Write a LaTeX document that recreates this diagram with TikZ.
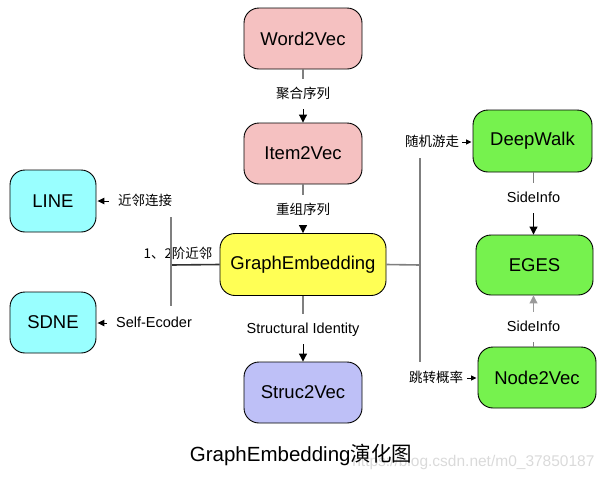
\documentclass[tikz,border=0pt]{standalone}
\usepackage{fontspec}
\setmainfont{Liberation Sans}
\newfontfamily\cjk{Noto Sans CJK SC}
\usetikzlibrary{arrows.meta}
\definecolor{cpink}{HTML}{F5C1C1}
\definecolor{cyellow}{HTML}{FFFF55}
\definecolor{ccyan}{HTML}{99FFFF}
\definecolor{cgreen}{HTML}{76F24E}
\definecolor{clav}{HTML}{BEC0F7}
\definecolor{cgray}{HTML}{7F7F7F}
\definecolor{cdark}{HTML}{333333}
\definecolor{clight}{HTML}{9A9A9A}
\definecolor{cwater}{HTML}{DADADA}
\tikzset{
  box/.style={draw=black, line width=0.9pt, rounded corners=15pt, inner sep=0pt,
    font=\fontsize{18.5}{20}\selectfont},
  lbl/.style={inner xsep=2pt, inner ysep=8.5pt, text height=10.5pt, text depth=2.5pt,
    font=\fontsize{13.5}{15}\selectfont},
  sidelbl/.style={inner xsep=2pt, inner ysep=0pt, text height=10.5pt, text depth=2.5pt,
    font=\fontsize{13.5}{15}\selectfont},
  latin/.style={font=\fontsize{14.5}{16}\selectfont},
  gline/.style={draw=cgray, line width=1.6pt},
  dline/.style={draw=cdark, line width=1.6pt},
  downarrow/.style={draw=black, line width=1pt, -{Triangle[length=8pt,width=8pt]}},
  grayarrow/.style={draw=clight, line width=1pt, -{Triangle[length=8pt,width=8pt]}},
  sidearrow/.style={draw=black, line width=1pt, -{Triangle[length=7pt,width=6.5pt]}},
  tinyarrow/.style={draw=black, line width=1pt, -{Triangle[length=5.5pt,width=5pt]}},
}
\begin{document}
\begin{tikzpicture}[x=1pt,y=-1pt]
\useasboundingbox (0,0) rectangle (607,480);
% main nodes
\node[box, fill=cpink, minimum width=118pt, minimum height=61pt] (w2v) at (303,38.5) {Word2Vec};
\node[box, fill=cpink, minimum width=118pt, minimum height=61pt] (i2v) at (303,153.5) {Item2Vec};
\node[box, fill=cyellow, minimum width=166pt, minimum height=62pt] (ge) at (303,264.5) {GraphEmbedding};
\node[box, fill=clav, minimum width=118pt, minimum height=61pt] (s2v) at (303,392.5) {Struc2Vec};
\node[box, fill=ccyan, minimum width=86pt, minimum height=62pt] (line) at (53,201) {LINE};
\node[box, fill=ccyan, minimum width=86pt, minimum height=61pt] (sdne) at (53,322.5) {SDNE};
\node[box, fill=cgreen, minimum width=119pt, minimum height=62pt] (dw) at (532.5,141) {DeepWalk};
\node[box, fill=cgreen, minimum width=117pt, minimum height=60pt] (eges) at (534.5,265) {EGES};
\node[box, fill=cgreen, minimum width=118pt, minimum height=61pt] (n2v) at (537,377.5) {Node2Vec};
% labels on vertical connectors
\node[lbl] (l1) at (303,94) {\cjk 聚合序列};
\node[lbl] (l2) at (303,210) {\cjk 重组序列};
\node[lbl, latin] (l3) at (303,329) {Structural Identity};
\node[lbl, latin] (l9) at (533.5,198) {SideInfo};
\node[lbl, latin] (l10) at (533.5,327) {SideInfo};
% side labels
\node[sidelbl] (l4) at (145,201) {\cjk 近邻连接};
\node[sidelbl] (l5) at (178,254.5) {\cjk 1、2阶近邻};
\node[sidelbl, latin] (l6) at (154,323) {Self-Ecoder};
\node[sidelbl] (l7) at (432,142) {\cjk 随机游走};
\node[sidelbl] (l8) at (436,378) {\cjk 跳转概率};
% vertical chain
\draw[gline, line width=1.3pt] (w2v.south) -- (l1.north);
\draw[downarrow] (l1.south) -- (i2v.north);
\draw[gline, line width=1.3pt] (i2v.south) -- (l2.north);
\draw[downarrow] (l2.south) -- (ge.north);
\draw[gline, line width=1.3pt] (ge.south) -- (l3.north);
\draw[downarrow] (l3.south) -- (s2v.north);
\draw[gline, line width=1.3pt] (dw.south -| l9.north) -- (l9.north);
\draw[downarrow] (l9.south) -- (l9.south |- eges.north);
\draw[gline, line width=1.3pt] (n2v.north -| l10.south) -- (l10.south);
\draw[grayarrow] (l10.north) -- (l10.north |- eges.south);
% left branch
\coordinate (lb) at (171,265);
\coordinate (lt) at (171,217);
\coordinate (lbo) at (171,306);
\draw[dline] (ge.west) -- (lb);
\draw[gline] (lt) -- (lbo);
\draw[sidearrow, shorten <=7pt, shorten >=1pt] (l4.west) -- (line.east |- l4.west);
\draw[sidearrow, shorten <=7pt, shorten >=1pt] (l6.west) -- (sdne.east |- l6.west);
% right branch
\coordinate (rb) at (420,265);
\coordinate (rt) at (420,158);
\coordinate (rbo) at (420,362);
\draw[gline] (ge.east) -- (rb);
\draw[gline] (rt) -- (rbo);
\draw[tinyarrow, shorten <=1pt, shorten >=1pt] (l7.east) -- (dw.west |- l7.east);
\draw[tinyarrow, shorten <=2pt, shorten >=1pt] (l8.east) -- (n2v.west |- l8.east);
% title and watermark
\node[font=\fontsize{15.5}{17}\selectfont, text=cwater, anchor=east] (wm) at (598,462) {https://blog.csdn.net/m0\_37850187};
\node[font=\fontsize{20.5}{24}\selectfont] (title) at (301,455) {GraphEmbedding{\cjk 演化图}};
\end{tikzpicture}
\end{document}
